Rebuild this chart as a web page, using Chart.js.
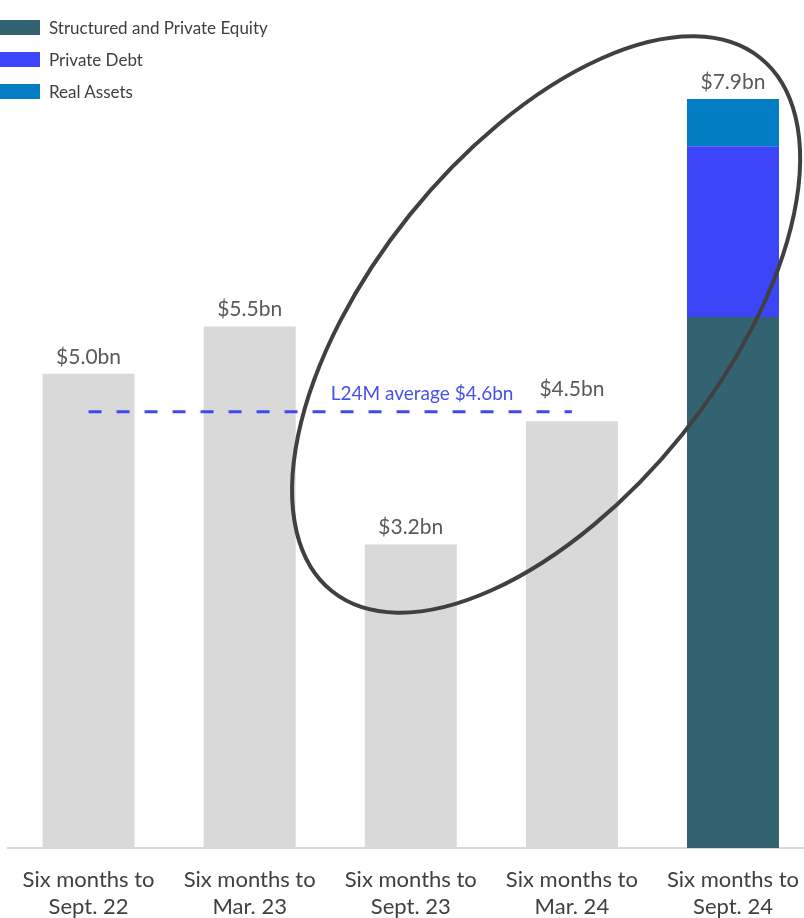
<!DOCTYPE html>
<html>
<head>
<meta charset="utf-8">
<script src="https://cdn.jsdelivr.net/npm/chart.js@4.4.1/dist/chart.umd.min.js"></script>
<style>
  html, body { margin: 0; padding: 0; background: #fff; overflow: hidden; }
  #wrap { position: relative; width: 817px; height: 918px; }
  #legend { position: absolute; left: 0; top: 11px; font-family: Lato, sans-serif; font-size: 17px; color: #404040; }
  #legend .row { display: flex; align-items: center; height: 32px; }
  #legend .sw { width: 40px; height: 15px; margin-right: 9px; }
</style>
</head>
<body>
<div id="wrap">
  <canvas id="fundraisingChart" width="817" height="918"></canvas>
  <div id="legend"></div>
</div>
<script>
const periods = [
    ['Six months to', 'Sept. 22'],
    ['Six months to', 'Mar. 23'],
    ['Six months to', 'Sept. 23'],
    ['Six months to', 'Mar. 24'],
    ['Six months to', 'Sept. 24']
];
// earlier periods only show the total
const totalOnly = [5.0, 5.5, 3.2, 4.5, null];
const structuredEquity = [null, null, null, null, 5.6];
const privateDebt = [null, null, null, null, 1.8];
const realAssets = [null, null, null, null, 0.5];
const averageL24M = 4.6;
const averageLine = [averageL24M, averageL24M, averageL24M, averageL24M, null];

const GREY = '#d9d9d9';
const TEAL = '#336270';
const BLUE = '#3c46f8';
const LIGHT_BLUE = '#027cc3';

// extra lift so a total doesn't sit on the dashed average line
const labelLift = [0, 0, 0, 15, 0];

// totals above each column
const labelPlugin = {
    id: 'totals',
    afterDatasetsDraw(chart) {
        const { ctx, scales: { x, y } } = chart;
        ctx.save();
        ctx.font = '21px Lato, sans-serif';
        ctx.fillStyle = '#595959';
        ctx.textAlign = 'center';
        ctx.textBaseline = 'alphabetic';
        periods.forEach((p, i) => {
            const total = [totalOnly, structuredEquity, privateDebt, realAssets]
                .reduce((s, arr) => s + (arr[i] || 0), 0);
            ctx.fillText('$' + total.toFixed(1) + 'bn', x.getPixelForValue(i), y.getPixelForValue(total) - 10 - labelLift[i]);
        });

        // average caption
        const ay = y.getPixelForValue(averageL24M);
        ctx.font = '19px Lato, sans-serif';
        ctx.fillStyle = '#4751eb';
        ctx.fillText('L24M average $' + averageL24M.toFixed(1) + 'bn', x.getPixelForValue(2.07), ay - 12);

        // highlight ring round the latest periods
        const cx = x.getPixelForValue(2.84);
        const cy = y.getPixelForValue(5.52);
        ctx.beginPath();
        ctx.ellipse(cx, cy, 342, 175, -51.2 * Math.PI / 180, 0, Math.PI * 2);
        ctx.lineWidth = 4;
        ctx.strokeStyle = '#404040';
        ctx.stroke();
        ctx.restore();
    }
};

const chart = new Chart(document.getElementById('fundraisingChart'), {
    type: 'bar',
    data: {
        labels: periods,
        datasets: [
            {
                type: 'line',
                label: 'L24M average',
                data: averageLine,
                borderColor: '#3f49f2',
                borderWidth: 3,
                borderDash: [13, 15],
                pointRadius: 0,
                fill: false,
                order: 0
            },
            { label: '', data: totalOnly, backgroundColor: GREY, order: 1 },
            { label: 'Structured and Private Equity', data: structuredEquity, backgroundColor: TEAL, order: 1 },
            { label: 'Private Debt', data: privateDebt, backgroundColor: BLUE, order: 1 },
            { label: 'Real Assets', data: realAssets, backgroundColor: LIGHT_BLUE, order: 1 }
        ]
    },
    options: {
        responsive: false,
        animation: false,
        layout: { padding: { left: 8, right: 0, top: 42, bottom: -20 } },
        datasets: {
            bar: { categoryPercentage: 1, barPercentage: 0.571, borderWidth: 0 }
        },
        plugins: {
            legend: { display: false },
            tooltip: { enabled: false }
        },
        scales: {
            x: {
                stacked: true,
                grid: { display: false, drawTicks: false },
                border: { display: true, color: GREY, width: 2 },
                ticks: {
                    color: '#404040',
                    font: { family: 'Lato, sans-serif', size: 22, lineHeight: 1.23 },
                    padding: 18,
                    maxRotation: 0,
                    autoSkip: false
                }
            },
            y: {
                stacked: true,
                display: false,
                min: 0,
                max: 8.5
            }
        }
    },
    plugins: [labelPlugin]
});

// legend for the stacked segments
const legend = document.getElementById('legend');
chart.data.datasets.slice(2).forEach(ds => {
    const row = document.createElement('div');
    row.className = 'row';
    row.innerHTML = '<span class="sw" style="background:' + ds.backgroundColor + '"></span><span>' + ds.label + '</span>';
    legend.appendChild(row);
});
</script>
</body>
</html>
